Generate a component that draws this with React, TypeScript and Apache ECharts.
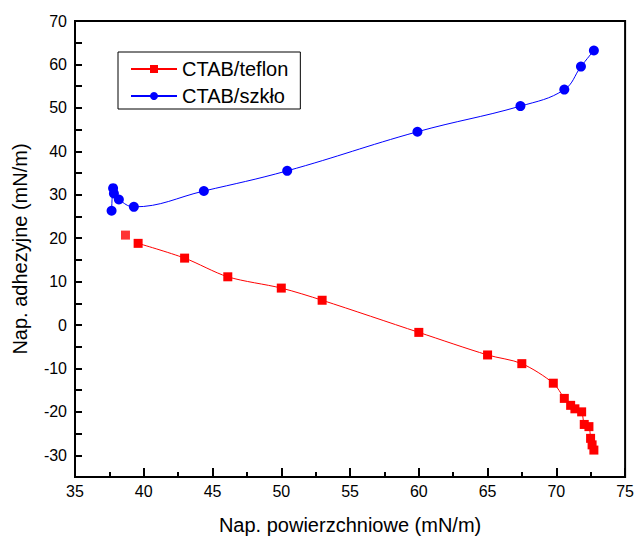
import React, { useEffect, useRef } from "react";
import * as echarts from "echarts";

// CTAB / teflon (first point is drawn without a connecting line)
const teflonX = [38.67, 39.59, 42.97, 46.11, 50.0, 52.97, 60.0, 65.0, 67.49, 69.78, 70.58, 71.04, 71.35, 71.84, 72.03, 72.37, 72.49, 72.6, 72.73];
const teflonY = [20.7, 18.8, 15.4, 11.1, 8.5, 5.7, -1.7, -6.9, -8.9, -13.4, -16.9, -18.5, -19.3, -20.0, -22.9, -23.4, -26.1, -27.6, -28.8];

// CTAB / szkło
const glassX = [37.66, 37.77, 37.83, 38.19, 39.28, 44.37, 50.43, 59.9, 67.39, 70.58, 71.79, 72.73];
const glassY = [26.3, 31.5, 30.3, 28.9, 27.2, 30.85, 35.5, 44.5, 50.4, 54.2, 59.5, 63.2];

const seriesNames = ["CTAB/teflon", "CTAB/szkło"];
const xTitle = "Nap. powierzchniowe (mN/m)";
const yTitle = "Nap. adhezyjne (mN/m)";

const FONT = "'Liberation Sans', Arial, sans-serif";

export default function App() {
  const ref = useRef<HTMLDivElement>(null);
  useEffect(() => {
    if (!ref.current) return;
    const chart = echarts.init(ref.current, undefined, { renderer: "svg" });
    const teflon = teflonX.map((x, i) => [x, teflonY[i]]);
    const glass = glassX.map((x, i) => [x, glassY[i]]);
    const black = "#000";
    chart.setOption({
      animation: false,
      backgroundColor: "#fff",
      grid: {
        left: 75,
        top: 21,
        width: 552,
        height: 456,
        show: true,
        borderColor: black,
        borderWidth: 2,
        backgroundColor: "transparent",
      },
      legend: {
        data: seriesNames,
        orient: "vertical",
        left: 118,
        top: 52,
        itemWidth: 46,
        itemHeight: 10,
        itemGap: 7,
        padding: [7, 12, 3, 12],
        borderColor: black,
        borderWidth: 1,
        textStyle: { fontSize: 20, color: black, fontFamily: FONT, lineHeight: 20 },
      },
      xAxis: {
        type: "value",
        min: 35,
        max: 75,
        interval: 5,
        axisLine: { show: true, onZero: false, lineStyle: { color: black, width: 2 } },
        axisTick: { show: true, inside: true, length: 9, lineStyle: { color: black, width: 2 } },
        minorTick: { show: true, splitNumber: 2, length: 5, lineStyle: { color: black, width: 2 } },
        splitLine: { show: false },
        axisLabel: { fontSize: 16, color: black, margin: 6, fontFamily: FONT },
        name: xTitle,
        nameLocation: "middle",
        nameGap: 38,
        nameTextStyle: { fontSize: 20, color: black, fontFamily: FONT },
      },
      yAxis: {
        type: "value",
        min: -35,
        max: 70,
        interval: 5,
        axisLine: { show: true, onZero: false, lineStyle: { color: black, width: 2 } },
        axisTick: { show: true, inside: true, length: 7, lineStyle: { color: black, width: 2 } },
        splitLine: { show: false },
        axisLabel: {
          fontSize: 16,
          color: black,
          margin: 8,
          fontFamily: FONT,
          formatter: (v: number) => (Math.round(v) % 10 === 0 ? String(v) : ""),
        },
        name: yTitle,
        nameLocation: "middle",
        nameGap: 45,
        nameTextStyle: { fontSize: 20, color: black, fontFamily: FONT },
      },
      series: [
        {
          name: seriesNames[0],
          type: "line",
          data: teflon.slice(1),
          symbol: "rect",
          symbolSize: 9,
          smooth: 0.3,
          itemStyle: { color: "#ff0000" },
          lineStyle: { color: "#ff0000", width: 1 },
          z: 3,
        },
        {
          name: seriesNames[1],
          type: "line",
          data: glass,
          symbol: "circle",
          symbolSize: 10,
          smooth: 0.4,
          itemStyle: { color: "#0000ff" },
          lineStyle: { color: "#0000ff", width: 1 },
          z: 3,
        },
        {
          name: seriesNames[0],
          type: "scatter",
          data: teflon.slice(0, 1),
          symbol: "rect",
          symbolSize: 9,
          itemStyle: { color: "#ff0000" },
          z: 3,
        },
      ],
    });
    return () => chart.dispose();
  }, []);
  return (
    <div
      ref={ref}
      style={{ position: "absolute", left: 0, top: 0, width: 637, height: 540, background: "#fff" }}
    />
  );
}
